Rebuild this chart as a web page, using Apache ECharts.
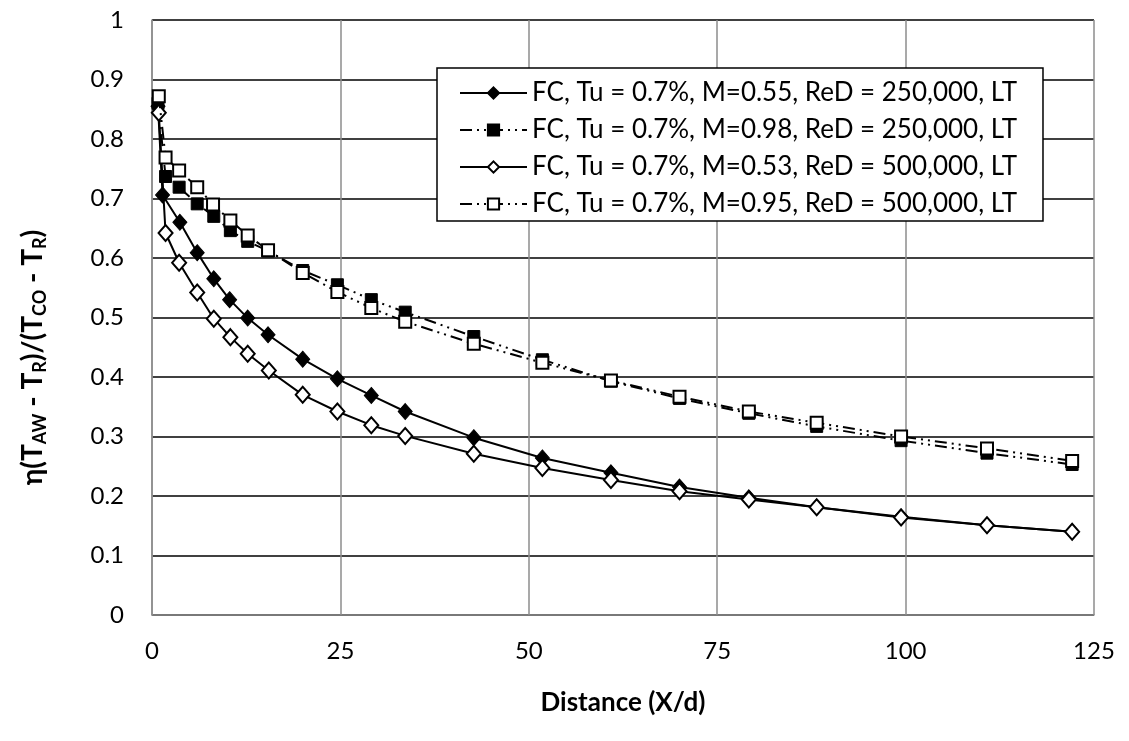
<!DOCTYPE html>
<html><head><meta charset="utf-8">
<script src="https://cdn.jsdelivr.net/npm/echarts@6/dist/echarts.min.js"></script>
<style>html,body{margin:0;padding:0;background:#fff}#c{width:1129px;height:741px}</style>
</head><body><div id="c"></div>
<script>
const seriesNames = [
  'FC, Tu = 0.7%, M=0.55, ReD = 250,000, LT',
  'FC, Tu = 0.7%, M=0.98, ReD = 250,000, LT',
  'FC, Tu = 0.7%, M=0.53, ReD = 500,000, LT',
  'FC, Tu = 0.7%, M=0.95, ReD = 500,000, LT'
];
const xFilledDiamond = [0.8, 1.4, 3.7, 6.0, 8.2, 10.3, 12.7, 15.4, 20.0, 24.6, 29.1, 33.6, 42.7, 51.8, 60.9, 70.0, 79.2, 88.2, 99.4, 110.8, 122.1];
const yFilledDiamond = [0.855, 0.706, 0.660, 0.609, 0.565, 0.530, 0.499, 0.471, 0.430, 0.397, 0.369, 0.342, 0.298, 0.264, 0.239, 0.215, 0.197, 0.181, 0.165, 0.151, 0.140];
const xFilledSquare = [0.8, 1.8, 3.6, 6.0, 8.2, 10.4, 12.7, 15.4, 20.0, 24.6, 29.1, 33.6, 42.7, 51.8, 60.9, 70.0, 79.2, 88.2, 99.4, 110.8, 122.1];
const yFilledSquare = [0.860, 0.737, 0.719, 0.691, 0.670, 0.646, 0.628, 0.612, 0.579, 0.555, 0.530, 0.509, 0.468, 0.429, 0.393, 0.364, 0.339, 0.317, 0.293, 0.272, 0.253];
const xOpenDiamond = [0.9, 1.8, 3.6, 6.0, 8.2, 10.4, 12.7, 15.5, 20.0, 24.6, 29.1, 33.6, 42.7, 51.8, 60.9, 70.0, 79.2, 88.2, 99.4, 110.8, 122.1];
const yOpenDiamond = [0.844, 0.642, 0.592, 0.542, 0.498, 0.467, 0.439, 0.411, 0.370, 0.342, 0.319, 0.301, 0.271, 0.247, 0.227, 0.208, 0.194, 0.181, 0.164, 0.151, 0.140];
const xOpenSquare = [0.9, 1.8, 3.6, 6.0, 8.1, 10.4, 12.7, 15.4, 20.0, 24.6, 29.1, 33.6, 42.7, 51.8, 60.9, 70.0, 79.2, 88.2, 99.4, 110.8, 122.1];
const yOpenSquare = [0.872, 0.769, 0.747, 0.719, 0.690, 0.663, 0.638, 0.613, 0.575, 0.543, 0.516, 0.493, 0.456, 0.424, 0.394, 0.367, 0.342, 0.323, 0.300, 0.280, 0.259];
const xTicks = [0, 25, 50, 75, 100, 125];
const yTicks = [0, 0.1, 0.2, 0.3, 0.4, 0.5, 0.6, 0.7, 0.8, 0.9, 1];

const zip = (xs, ys) => xs.map((x, i) => [x, ys[i]]);
const FONT = 'Lato';
const dashDotDot = [12, 5, 2, 5, 2, 5];

const chart = echarts.init(document.getElementById('c'), null, {renderer: 'canvas'});
chart.setOption({
  animation: false,
  backgroundColor: '#fff',
  textStyle: {fontFamily: FONT},
  grid: {left: 152, right: 35, top: 20, bottom: 126, containLabel: false},
  legend: {
    orient: 'vertical', left: 437, top: 68,
    backgroundColor: '#fff', borderColor: '#000', borderWidth: 1.5,
    padding: [12, 26, 4, 22], itemGap: 11, itemWidth: 67, itemHeight: 14,
    textStyle: {fontFamily: FONT, fontSize: 26, color: '#000'},
    data: seriesNames.map(n => ({name: n}))
  },
  xAxis: {
    type: 'value', min: 0, max: 125, interval: 25,
    axisLine: {show: true, lineStyle: {color: '#8c8c8c', width: 1.5}},
    axisTick: {show: false},
    splitLine: {show: true, lineStyle: {color: '#8c8c8c', width: 1.5}},
    axisLabel: {fontFamily: FONT, fontSize: 24, color: '#000', margin: 24,
      formatter: v => xTicks.includes(v) ? String(v) : ''},
    name: 'Distance (X/d)', nameLocation: 'middle', nameGap: 75,
    nameTextStyle: {fontFamily: FONT, fontSize: 26, fontWeight: 'bold', color: '#000'}
  },
  yAxis: {
    type: 'value', min: 0, max: 1, interval: 0.1,
    axisLine: {show: true, lineStyle: {color: '#8c8c8c', width: 1.5}},
    axisTick: {show: false},
    splitLine: {show: true, lineStyle: {color: '#000', width: 1.5}},
    axisLabel: {fontFamily: FONT, fontSize: 24, color: '#000', margin: 28,
      formatter: v => { const t = yTicks.find(k => Math.abs(k - v) < 1e-9); return t === undefined ? '' : String(t); }},
    name: '{m|η(T}{s|AW}{m| - T}{s|R}{m|)/(T}{s|CO}{m| - T}{s|R}{m|)}',
    nameLocation: 'middle', nameGap: 104, nameRotate: 90,
    nameTextStyle: {
      fontFamily: FONT, fontWeight: 'bold', color: '#000',
      padding: [0, 80, 0, 0],
      rich: {
        m: {fontFamily: FONT, fontSize: 28, fontWeight: 'bold', color: '#000', lineHeight: 30, verticalAlign: 'middle'},
        s: {fontFamily: FONT, fontSize: 18, fontWeight: 'bold', color: '#000', lineHeight: 30, padding: [14, 0, 0, 0], verticalAlign: 'middle'}
      }
    }
  },
  series: [
    {name: seriesNames[0], type: 'line', data: zip(xFilledDiamond, yFilledDiamond), symbol: 'diamond', symbolSize: [14, 16],
     lineStyle: {color: '#000', width: 2}, itemStyle: {color: '#000', borderColor: '#000', borderWidth: 1}, z: 2},
    {name: seriesNames[1], type: 'line', data: zip(xFilledSquare, yFilledSquare), symbol: 'rect', symbolSize: 12,
     lineStyle: {color: '#000', width: 2, type: dashDotDot}, itemStyle: {color: '#000', borderColor: '#000', borderWidth: 1}, z: 3},
    {name: seriesNames[2], type: 'line', data: zip(xOpenDiamond, yOpenDiamond), symbol: 'diamond', symbolSize: [14, 16],
     lineStyle: {color: '#000', width: 2}, itemStyle: {color: '#fff', borderColor: '#000', borderWidth: 2}, z: 4},
    {name: seriesNames[3], type: 'line', data: zip(xOpenSquare, yOpenSquare), symbol: 'rect', symbolSize: 12,
     lineStyle: {color: '#000', width: 2, type: dashDotDot}, itemStyle: {color: '#fff', borderColor: '#000', borderWidth: 2}, z: 5}
  ]
});
</script>
</body></html>
